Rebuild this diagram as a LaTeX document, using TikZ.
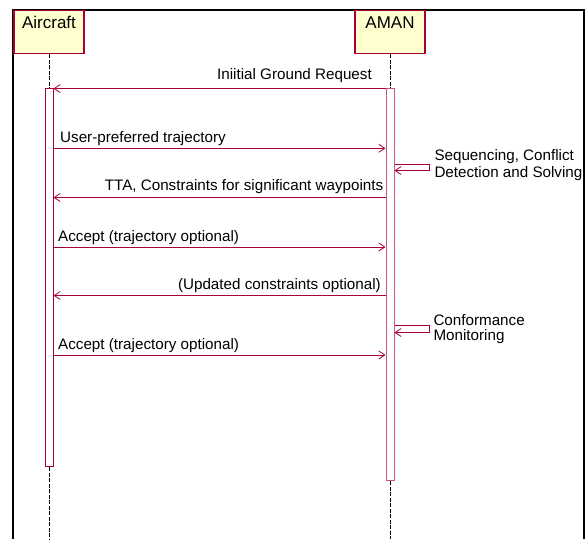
\documentclass[tikz,border=0pt]{standalone}
\usepackage{fontspec}
\setmainfont{Liberation Sans}
\usetikzlibrary{arrows.meta}
\definecolor{crim}{HTML}{A80036}
\definecolor{actfill}{HTML}{FEFECE}
\tikzset{
  actor/.style={draw=crim, line width=1.1pt, fill=actfill, inner sep=0pt,
    minimum width=70pt, text height=17.5pt, text depth=25.5pt,
    font=\fontsize{17}{20}\selectfont},
  actbar/.style={draw=crim, line width=1pt, fill=white, inner sep=0pt, minimum width=8pt},
  lifeline/.style={draw=black, line width=0.8pt, dash pattern=on 4pt off 1.5pt},
  msg/.style={draw=crim, line width=0.9pt, -{Straight Barb[length=6pt,width=8pt,line width=0.8pt]}},
  lbl/.style={inner sep=0pt, font=\fontsize{15.2}{16}\selectfont},
}
\begin{document}
\begin{tikzpicture}[x=1pt,y=-1pt]
\useasboundingbox (0,0) rectangle (586,539);
% frame
\draw[line width=2pt] (13,539) -- (13,10) -- (583.5,10) -- (583.5,539);
% actors
\node[actor, anchor=north] (ac) at (49,10) {Aircraft};
\node[actor, anchor=north] (am) at (390,10) {AMAN};
% activations
\node[actbar, minimum height=378.7pt] (acA) at (49,277.35) {};
\node[actbar, draw=crim!65, minimum height=392.5pt] (amA) at (390,284.25) {};
% lifelines
\draw[lifeline] (ac.south) -- (acA.north);
\draw[lifeline] (acA.south) -- (ac.south |- 0,539);
\draw[lifeline] (am.south) -- (amA.north);
\draw[lifeline] (amA.south) -- (am.south |- 0,539);
% messages
\draw[msg] (amA.west |- 0,88.5) -- (acA.east |- 0,88.5);
\node[lbl, anchor=base east] (l1) at (372,79.5) {Iniitial Ground Request};
\draw[msg] (acA.east |- 0,148.3) -- (amA.west |- 0,148.3);
\node[lbl, anchor=base west] (l2) at (60,142.8) {User-preferred trajectory};
\draw[msg] (amA.east |- 0,164) -- (429.5,164) -- (429.5,170.5) -- (amA.east |- 0,170.5);
\node[lbl, anchor=base west, align=left] (l3) at (434.3,177) {Sequencing, Conflict\\[0.3pt]Detection and Solving};
\draw[msg] (amA.west |- 0,197.5) -- (acA.east |- 0,197.5);
\node[lbl, anchor=base east] (l4) at (383.5,190.5) {TTA, Constraints for significant waypoints};
\draw[msg] (acA.east |- 0,247) -- (amA.west |- 0,247);
\node[lbl, anchor=base west] (l5) at (58,241.5) {Accept (trajectory optional)};
\draw[msg] (amA.west |- 0,295.5) -- (acA.east |- 0,295.5);
\node[lbl, anchor=base east] (l6) at (381,289.5) {(Updated constraints optional)};
\draw[msg] (amA.east |- 0,325.5) -- (429.5,325.5) -- (429.5,332.5) -- (amA.east |- 0,332.5);
\node[lbl, anchor=base west, align=left] (l7) at (433.3,340.3) {Conformance\\[-1pt]Monitoring};
\draw[msg] (acA.east |- 0,355) -- (amA.west |- 0,355);
\node[lbl, anchor=base west] (l8) at (58,349) {Accept (trajectory optional)};
\end{tikzpicture}
\end{document}
